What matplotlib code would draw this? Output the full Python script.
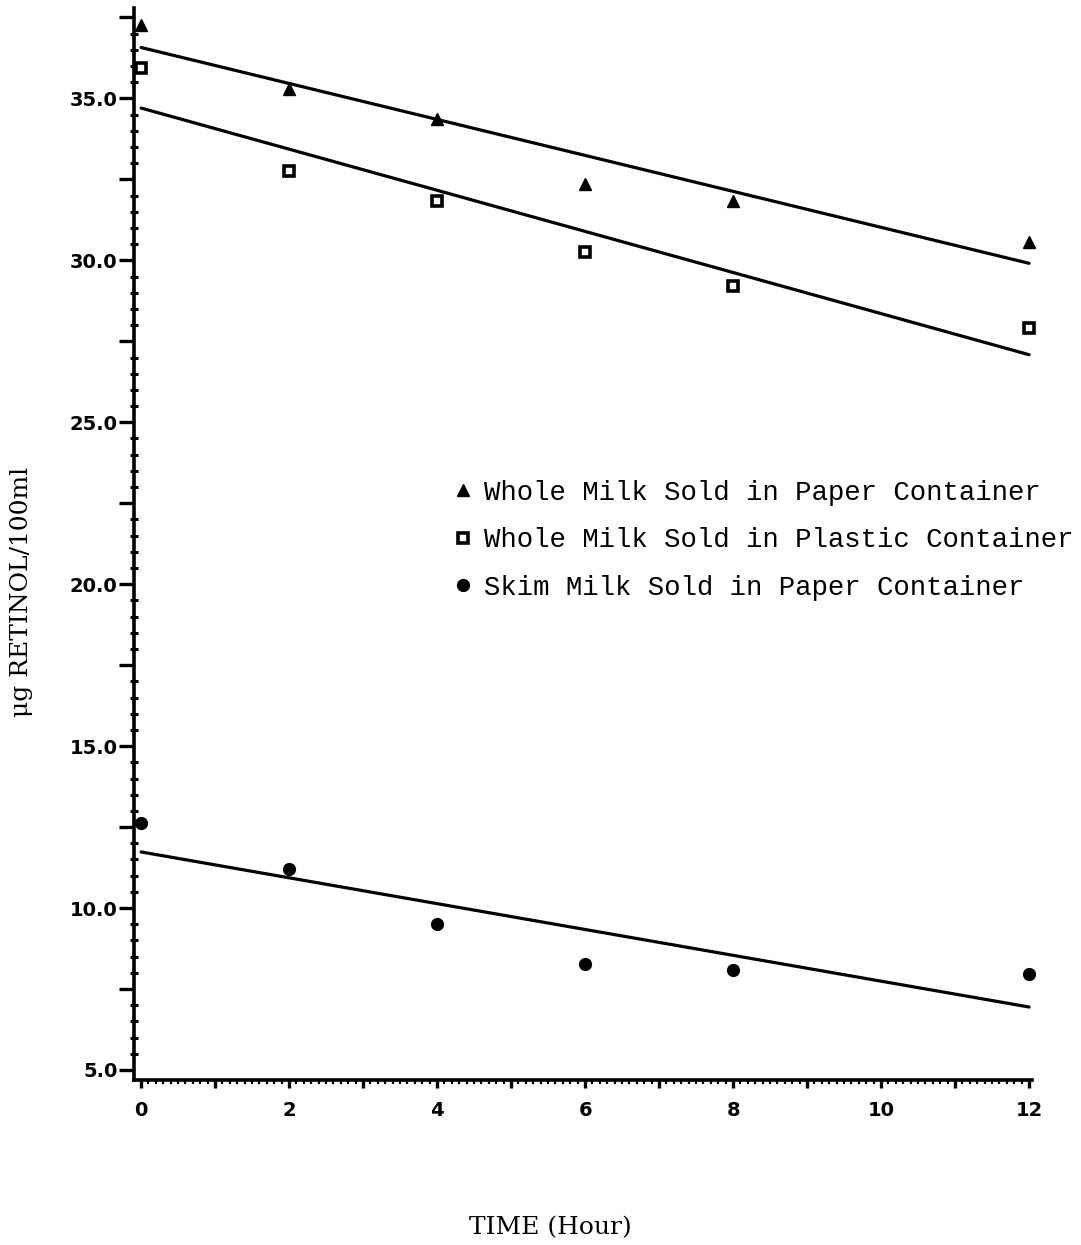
#!/usr/bin/env python3
import numpy as np
import matplotlib
matplotlib.use('Agg')
import matplotlib.pyplot as plt
from matplotlib.ticker import MultipleLocator, FuncFormatter

'''
Retinol loss in milk under light, regression lines per container type.
'''

hours = [0, 2, 4, 6, 8, 12]
whole_paper = [37.26, 35.28, 34.35, 32.37, 31.84, 30.57]
whole_plastic = [35.93, 32.77, 31.84, 30.26, 29.21, 27.90]
skim_paper = [12.63, 11.20, 9.50, 8.26, 8.08, 7.96]

labels = ['Whole Milk Sold in Paper Container',
          'Whole Milk Sold in Plastic Container',
          'Skim Milk Sold in Paper Container']
markers = ['^', 's', 'o']


def ylabelFmt(v, pos):
    if abs(v / 5.0 - round(v / 5.0)) < 1e-6:
        return '%.1f' % v
    return ''


def xlabelFmt(v, pos):
    if int(round(v)) % 2 == 0:
        return '%d' % round(v)
    return ''


def main():
    fig = plt.figure(figsize = (10.81, 12.45), dpi = 100)
    ax = fig.add_axes([0.124, 0.1325, 0.8307, 0.861])

    handles = []
    for series, mk, lab in zip([whole_paper, whole_plastic, skim_paper], markers, labels):
        x = np.array(hours, dtype = float)
        y = np.array(series)
        slope, icept = np.polyfit(x, y, 1)
        xs = np.array([0.0, 12.0])
        ax.plot(xs, icept + slope * xs, color = 'black', lw = 2.3, solid_capstyle = 'round')
        if mk == 's':
            h, = ax.plot(x, y, ls = 'none', marker = mk, ms = 7.5, mfc = 'white',
                         mec = 'black', mew = 2.6, label = lab, clip_on = False)
        else:
            h, = ax.plot(x, y, ls = 'none', marker = mk, ms = 8.5, color = 'black',
                         label = lab, clip_on = False)
        handles.append(h)

    ax.set_xlim(-0.095, 12.04)
    ax.set_ylim(4.69, 37.79)

    for s in ['top', 'right']:
        ax.spines[s].set_visible(False)
    for s in ['left', 'bottom']:
        ax.spines[s].set_linewidth(2.6)

    ax.yaxis.set_major_locator(MultipleLocator(2.5))
    ax.yaxis.set_minor_locator(MultipleLocator(0.5))
    ax.yaxis.set_major_formatter(FuncFormatter(ylabelFmt))
    ax.xaxis.set_major_locator(MultipleLocator(1))
    ax.xaxis.set_minor_locator(MultipleLocator(0.1))
    ax.xaxis.set_major_formatter(FuncFormatter(xlabelFmt))

    ax.tick_params(axis = 'y', which = 'major', direction = 'out', length = 11, width = 2.4, pad = 1)
    ax.tick_params(axis = 'y', which = 'minor', direction = 'inout', length = 6, width = 2.2)
    ax.tick_params(axis = 'x', which = 'major', direction = 'out', length = 6, width = 2.4, pad = 9)
    ax.tick_params(axis = 'x', which = 'minor', direction = 'out', length = 3, width = 1.6)

    for t in ax.get_yticklabels():
        t.set_fontsize(14)
        t.set_fontweight('heavy')
    for t in ax.get_xticklabels():
        t.set_fontsize(14)
        t.set_fontweight('heavy')

    ax.legend(handles = handles, loc = 'upper left', bbox_to_anchor = (0.421, 0.6145),
              bbox_transform = fig.transFigure, frameon = False, handlelength = 0.6,
              handletextpad = 0.45, labelspacing = 0.78, borderpad = 0, borderaxespad = 0,
              prop = {'family': 'Liberation Mono', 'size': 19.7})

    fig.text(550 / 1081, 1 - 1228 / 1245, 'TIME (Hour)', ha = 'center', va = 'center',
             family = 'DejaVu Serif', fontsize = 18)
    fig.text(22 / 1081, 1 - 592 / 1245, '\u03bcg RETINOL/100ml', ha = 'center', va = 'center',
             rotation = 90, family = 'DejaVu Serif', fontsize = 18)

    fig.savefig('out.png', dpi = 100, facecolor = 'white')


if __name__ == "__main__":
    main()
